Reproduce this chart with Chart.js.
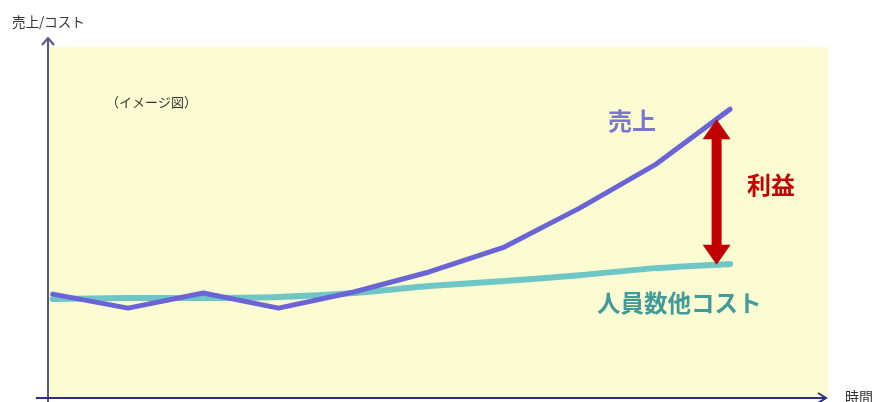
<!DOCTYPE html>
<html lang="ja">
<head>
<meta charset="utf-8">
<title>売上とコストの推移</title>
<script src="https://cdn.jsdelivr.net/npm/chart.js@4"></script>
<style>
  html, body { margin: 0; padding: 0; background: #fff; }
  #wrap { width: 889px; height: 402px; position: relative; }
</style>
</head>
<body>
<div id="wrap"><canvas id="chartId"></canvas></div>
<script>
// time periods (x axis, not labelled)
const periods = [0, 1, 2, 3, 4, 5, 6, 7, 8, 9];
// sales and staff/other costs, arbitrary units
const sales = [29.6, 25.6, 29.9, 25.6, 30.2, 35.9, 43.0, 54.1, 66.4, 82.3];
const costs = [28.2, 28.5, 28.5, 28.8, 29.9, 31.9, 33.3, 35.0, 37.0, 38.2];
// where the profit arrow sits on the time axis
const profitAt = 8.82;

const JP = '"Noto Sans CJK JP", "Noto Sans", sans-serif';

function valueAt(series, x) {
  const i = Math.floor(x);
  const t = x - i;
  return series[i] + (series[i + 1] - series[i]) * t;
}

// yellow plotting area behind the lines
const backdrop = {
  id: 'backdrop',
  beforeDraw(chart) {
    const { ctx, chartArea: a } = chart;
    ctx.save();
    ctx.fillStyle = '#fcfcd2';
    ctx.fillRect(a.left, a.top, a.right - a.left, a.bottom - a.top);
    ctx.restore();
  }
};

// hand-drawn style axes with arrow heads, plus all the text
const decorations = {
  id: 'decorations',
  afterDatasetsDraw(chart) {
    const { ctx, chartArea: a, scales } = chart;
    ctx.save();

    // y axis
    ctx.strokeStyle = '#55558a';
    ctx.lineWidth = 2;
    ctx.beginPath();
    ctx.moveTo(a.left - 1, a.bottom + 4);
    ctx.lineTo(a.left - 1, a.top - 9);
    ctx.stroke();
    ctx.beginPath();
    ctx.moveTo(a.left - 7, a.top - 2);
    ctx.lineTo(a.left - 1, a.top - 9);
    ctx.lineTo(a.left + 5, a.top - 2);
    ctx.stroke();

    // x axis
    ctx.strokeStyle = '#2e2e84';
    ctx.beginPath();
    ctx.moveTo(a.left - 13, a.bottom);
    ctx.lineTo(a.right - 2, a.bottom);
    ctx.stroke();
    ctx.beginPath();
    ctx.moveTo(a.right - 10, a.bottom - 5);
    ctx.lineTo(a.right - 2, a.bottom);
    ctx.lineTo(a.right - 10, a.bottom + 5);
    ctx.stroke();

    // profit arrow between the two lines
    const x = scales.x.getPixelForValue(profitAt);
    const yTop = scales.y.getPixelForValue(valueAt(sales, profitAt));
    const yBot = scales.y.getPixelForValue(valueAt(costs, profitAt));
    const head = 20, halfHead = 14, halfShaft = 5;
    ctx.fillStyle = '#c00000';
    ctx.beginPath();
    ctx.moveTo(x, yTop);
    ctx.lineTo(x + halfHead, yTop + head);
    ctx.lineTo(x + halfShaft, yTop + head);
    ctx.lineTo(x + halfShaft, yBot - head);
    ctx.lineTo(x + halfHead, yBot - head);
    ctx.lineTo(x, yBot);
    ctx.lineTo(x - halfHead, yBot - head);
    ctx.lineTo(x - halfShaft, yBot - head);
    ctx.lineTo(x - halfShaft, yTop + head);
    ctx.lineTo(x - halfHead, yTop + head);
    ctx.closePath();
    ctx.fill();

    ctx.textBaseline = 'middle';
    ctx.textAlign = 'left';

    // axis titles
    ctx.fillStyle = '#333333';
    ctx.font = '13.5px ' + JP;
    ctx.fillText('売上/コスト', 12, 22);
    ctx.font = '14px ' + JP;
    ctx.fillText('時間', 845, 397);
    ctx.font = '13px ' + JP;
    ctx.fillText('（イメージ図）', 106, 102);

    // series labels
    ctx.font = 'bold 24px ' + JP;
    ctx.fillStyle = '#7a74d4';
    ctx.fillText('売上', 608, 121);
    ctx.fillStyle = '#c40000';
    ctx.fillText('利益', 747, 185);
    ctx.font = 'bold 23.5px ' + JP;
    ctx.fillStyle = '#409b9b';
    ctx.fillText('人員数他コスト', 597, 303);

    ctx.restore();
  }
};

const toPoints = series => series.map((v, i) => ({ x: periods[i], y: v }));

new Chart(document.getElementById('chartId'), {
  type: 'line',
  data: {
    datasets: [
      {
        label: '売上',
        data: toPoints(sales),
        borderColor: '#6a64d6',
        borderWidth: 5,
        borderCapStyle: 'round',
        borderJoinStyle: 'round',
        pointRadius: 0,
        tension: 0
      },
      {
        label: '人員数他コスト',
        data: toPoints(costs),
        borderColor: '#6ec6c6',
        borderWidth: 6,
        borderCapStyle: 'round',
        borderJoinStyle: 'round',
        pointRadius: 0,
        tension: 0.2
      }
    ]
  },
  options: {
    responsive: true,
    maintainAspectRatio: false,
    animation: false,
    layout: { padding: { left: 49, right: 61, top: 47, bottom: 4 } },
    plugins: { legend: { display: false }, tooltip: { enabled: false } },
    scales: {
      x: { type: 'linear', min: -0.05, max: 10.3, display: false },
      y: { min: 0, max: 100, display: false }
    }
  },
  plugins: [backdrop, decorations]
});
</script>
</body>
</html>
